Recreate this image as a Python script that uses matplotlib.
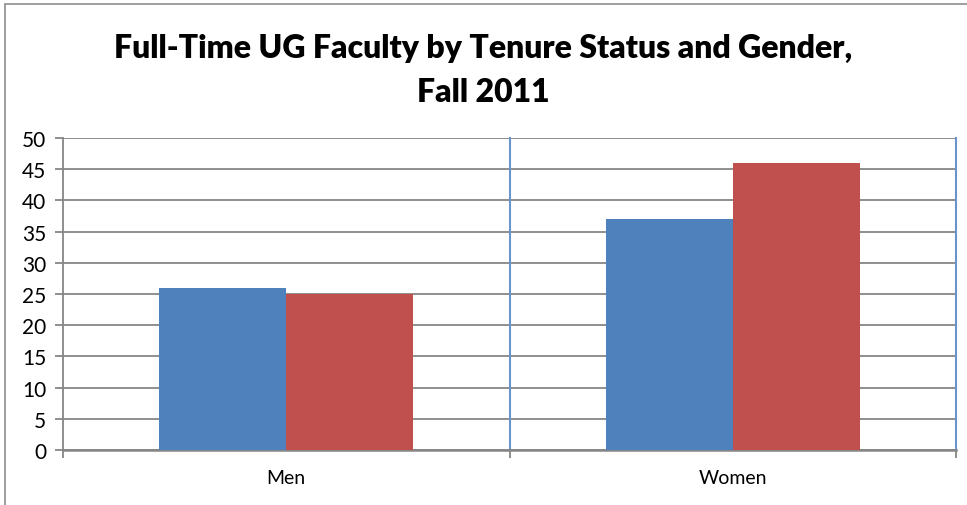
import numpy as np
import matplotlib
matplotlib.use("Agg")
from matplotlib import pyplot as plt
from matplotlib.patches import Rectangle

## faculty counts by gender, two tenure groups
genders = ["Men", "Women"]
tenured = [26, 37]
not_tenured = [25, 46]
yticks = list(range(0, 55, 5))

blue = "#4F81BD"
red = "#C0504D"
grey = "#868686"

plt.rcParams['font.family'] = ['Lato', 'DejaVu Sans']

fig = plt.figure(figsize=(9.67, 5.06), dpi=100)
ax = fig.add_axes([63/967, 1 - 451/506, (956 - 63)/967, (451 - 139)/506])

x = np.arange(len(genders))
w = 0.284
ax.bar(x - w/2, tenured, w, color=blue, zorder=3)
ax.bar(x + w/2, not_tenured, w, color=red, zorder=3)

ax.set_xlim(-0.5, 1.5)
ax.set_ylim(0, 50)
ax.set_yticks(yticks)
ax.set_yticklabels([str(v) for v in yticks], fontsize=15)
ax.yaxis.grid(True, color=grey, linewidth=1.3, zorder=0)

# category separators
for xv in [0.5, 1.5]:
    ax.axvline(xv, color="#6A95CC", linewidth=1.5, zorder=2, clip_on=False)

ax.set_xticks(x)
ax.set_xticklabels(genders, fontsize=14)
ax.tick_params(axis='x', length=0, pad=14)
ax.set_xticks([-0.5, 0.5, 1.5], minor=True)
ax.tick_params(axis='x', which='minor', length=6, color=grey, width=1.3)
ax.tick_params(axis='y', length=6, color=grey, width=1.3, pad=6)

for s in ['top', 'right']:
    ax.spines[s].set_visible(False)
ax.spines['left'].set_color(grey)
ax.spines['left'].set_linewidth(1.3)
ax.spines['bottom'].set_color(grey)
ax.spines['bottom'].set_linewidth(1.8)

fig.text(0.5, 1 - 48/506, "Full-Time UG Faculty by Tenure Status and Gender,",
         ha='center', va='center', fontsize=23, fontweight='heavy')
fig.text(0.5, 1 - 92/506, "Fall 2011",
         ha='center', va='center', fontsize=23, fontweight='heavy')

# chart border (top and left edges)
fig.add_artist(Rectangle((5/967, -0.1), 1.2, 1 - 5/506 + 0.1, transform=fig.transFigure,
                         fill=False, edgecolor="#8E8E8E", linewidth=1.2))

fig.savefig("out.png", dpi=100)
